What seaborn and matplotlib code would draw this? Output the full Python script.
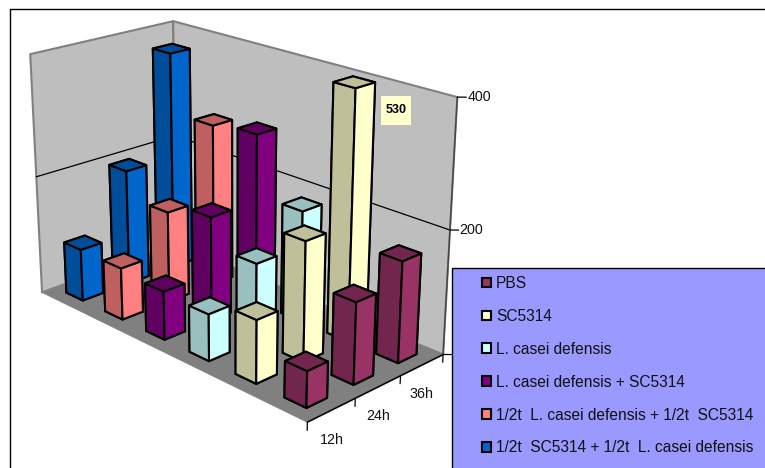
import numpy as np, matplotlib
matplotlib.use('Agg')
import matplotlib.pyplot as plt
import seaborn as sns
from matplotlib.patches import Patch, Rectangle
from mpl_toolkits.mplot3d import proj3d
from mpl_toolkits.mplot3d.art3d import Poly3DCollection

times = ['12h', '24h', '36h']
series = ['PBS', 'SC5314', 'L. casei defensis', 'L. casei defensis + SC5314',
          '1/2t  L. casei defensis + 1/2t  SC5314',
          '1/2t  SC5314 + 1/2t  L. casei defensis']
pbs = [57, 130, 163]
sc5314 = [101, 193, 530]
casei = [76, 127, 184]
casei_sc = [80, 173, 283]
half_casei = [87, 153, 274]
half_sc = [88, 196, 372]
values = [pbs, sc5314, casei, casei_sc, half_casei, half_sc]
ymax = 400
ticks = [0, 200, 400]

sns.set_theme(style='white')
plt.rcParams['font.family'] = ['Liberation Sans', 'DejaVu Sans']
palette = sns.color_palette(['#993366', '#FFFFCC', '#CCFFFF', '#800080', '#FF8080', '#0066CC'])
darker = [tuple(0.75 * c for c in col) for col in palette]

W, H = 765, 468
fig = plt.figure(figsize=(W / 100, H / 100), dpi=100, facecolor='white')
ax = fig.add_axes([0, 0, 1, 1], projection='3d')
ax.computed_zorder = False
ax.set_axis_off()

nx, ny = len(series), len(times)
EL, AZ, FL, AY, AZ2 = 21.039, -43.966, 0.56568, 0.49463, 0.67367

# walls and floor
left = [(0, 0, 0), (0, ny, 0), (0, ny, ymax), (0, 0, ymax)]
back = [(0, ny, 0), (nx, ny, 0), (nx, ny, ymax), (0, ny, ymax)]
floor = [(0, 0, 0), (nx, 0, 0), (nx, ny, 0), (0, ny, 0)]
ax.add_collection3d(Poly3DCollection([left, back], facecolor='#BEBEBE', edgecolor='#808080',
                                     linewidth=1.5, zorder=1))
ax.add_collection3d(Poly3DCollection([floor], facecolor='#808080', edgecolor='#808080',
                                     linewidth=0.5, zorder=2))
# gridline
ax.plot([0, 0, nx], [0, ny, ny], [200, 200, 200], color='black', lw=0.9, zorder=3)
# depth axis with ticks
ax.plot([nx, nx], [0, ny], [0, 0], color='black', lw=1.0, zorder=4)
for j in range(ny + 1):
    ax.plot([nx, nx], [j, j], [0, -13], color='black', lw=0.9, zorder=4)
# value axis
ax.plot([nx, nx], [ny, ny], [0, ymax], color='#444444', lw=1.0, zorder=4)
for t in ticks:
    ax.plot([nx, nx + 0.09], [ny, ny + 0.09], [t, t], color='black', lw=0.9, zorder=4)

# bars, back rows first
width = 0.43
order = 10
for j in range(ny - 1, -1, -1):
    for s in range(nx - 1, -1, -1):
        i = nx - 1 - s
        h = min(values[s][j], ymax)
        faces = [darker[s], darker[s], darker[s], palette[s], darker[s], palette[s]]
        ax.bar3d(i + 0.5 - width / 2, j + 0.5 - width / 2, 0, width, width, h,
                 color=faces, shade=False, edgecolor='black', linewidth=1.5, zorder=order)
        order += 1

ax.set_xlim3d(0, nx); ax.set_ylim3d(0, ny); ax.set_zlim3d(0, ymax)
ax.view_init(elev=EL, azim=AZ)
ax.set_proj_type('persp', focal_length=FL)
ax.set_box_aspect((1, AY, AZ2))

# place the axes so the projected box lands where the chart sits
A, B, C = 2688.045, 233.754, 265.823
ax.apply_aspect()
p0 = ax.transData.transform((0, 0)); p1 = ax.transData.transform((1, 1))
S = H * A / (p1[0] - p0[0])
k = S / H
lft = B - (p0[0] - (W - H) / 2) * k
bot = C - p0[1] * k
ax.set_position([lft / W, bot / H, S / W, S / H])
ax.apply_aspect()

def to_fig(x, y, z):
    X, Y, _ = proj3d.proj_transform(x, y, z, ax.get_proj())
    px = ax.transData.transform((float(X), float(Y)))
    return px[0] / W, px[1] / H

# axis labels, placed from the same scales as the bars
for j, lab in enumerate(times):
    fx, fy = to_fig(nx, j + 0.5, -48)
    fig.text(fx + 1 / W, fy, lab, fontsize=10.3, color='#111111', ha='center', va='center', zorder=3)
for t in ticks:
    fx, fy = to_fig(nx + 0.1, ny + 0.1, t)
    fig.text(fx, fy, str(t), fontsize=10.3, color='#111111', ha='left', va='center', zorder=3)

# data label of the clipped bar
fx, fy = to_fig(4.89, ny, 356)
fig.add_artist(Rectangle((fx - 15 / W, fy - 14.5 / H), 30 / W, 29 / H, transform=fig.transFigure,
                         facecolor='#FFFFCC', edgecolor='none', zorder=2.5))
fig.text(fx, fy, str(sc5314[2]), fontsize=9, fontweight='bold', color='black',
         ha='center', va='center', zorder=3)

# chart frame and legend box
fig.add_artist(Rectangle((10 / W, -5 / H), (W + 20) / W, (H - 9 + 5) / H, transform=fig.transFigure,
                         fill=False, edgecolor='black', linewidth=1.0, zorder=4))
fig.add_artist(Rectangle((452 / W, -5 / H), 340 / W, (H - 268 + 5) / H, transform=fig.transFigure,
                         facecolor='#9999FF', edgecolor='black', linewidth=1.0, zorder=5))
handles = [Patch(facecolor=c, edgecolor='black', linewidth=1.5) for c in palette]
leg = fig.legend(handles, series, loc='upper left', bbox_to_anchor=(482 / W, (H - 276) / H),
                 bbox_transform=fig.transFigure, frameon=False, fontsize=11.2, labelcolor='#111111',
                 handlelength=0.58, handleheight=0.58, handletextpad=0.32, labelspacing=1.15,
                 borderpad=0, borderaxespad=0)
leg.set_zorder(6)

fig.savefig('out.png', dpi=100)
